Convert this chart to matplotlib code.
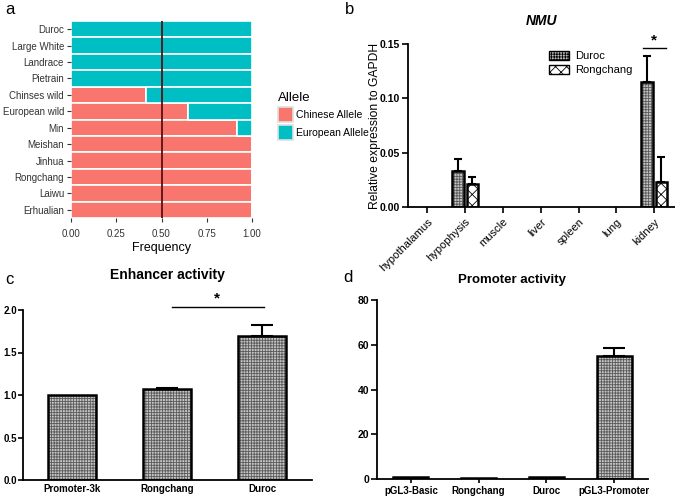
import matplotlib
matplotlib.use("Agg")
import matplotlib.pyplot as plt
from matplotlib import font_manager
from matplotlib.patches import Patch
import numpy as np

plt.rcParams['font.family'] = ['Liberation Sans', 'DejaVu Sans']
plt.rcParams['hatch.linewidth'] = 0.6

_names = {f.name for f in font_manager.fontManager.ttflist}
NARROW = ['Liberation Sans Narrow', 'Liberation Sans', 'DejaVu Sans'] if 'Liberation Sans Narrow' in _names \
    else ['Liberation Sans', 'DejaVu Sans']

W, H = 675, 497

# ---------------- data ----------------
# panel a
breeds = ["Duroc", "Large White", "Landrace", "Pietrain", "Chinses wild", "European wild",
          "Min", "Meishan", "Jinhua", "Rongchang", "Laiwu", "Erhualian"]
chinese_freq = [0.0, 0.0, 0.0, 0.0, 0.415, 0.645, 0.915, 1.0, 1.0, 1.0, 1.0, 1.0]
a_xticks = [0.00, 0.25, 0.50, 0.75, 1.00]
a_xticklabels = ["0.00", "0.25", "0.50", "0.75", "1.00"]

# panel b
tissues = ["hypothalamus", "hypophysis", "muscle", "liver", "spleen", "lung", "kidney"]
duroc_expr = [0.0, 0.033, 0.0, 0.0, 0.0, 0.0, 0.115]
duroc_err = [0.0, 0.011, 0.0, 0.0, 0.0, 0.0, 0.024]
rong_expr = [0.0, 0.021, 0.0, 0.0, 0.0, 0.0, 0.023]
rong_err = [0.0, 0.007, 0.0, 0.0, 0.0, 0.0, 0.023]
b_yticks = [0.00, 0.05, 0.10, 0.15]

# panel c
enh_groups = ["Promoter-3k", "Rongchang", "Duroc"]
enh_vals = [1.0, 1.07, 1.69]
enh_err = [0.0, 0.01, 0.13]
c_yticks = [0.0, 0.5, 1.0, 1.5, 2.0]

# panel d
prom_groups = ["pGL3-Basic", "Rongchang", "Duroc", "pGL3-Promoter"]
prom_vals = [1.0, 0.6, 0.7, 55.0]
prom_err = [0.0, 0.0, 0.0, 3.5]
d_yticks = [0, 20, 40, 60, 80]

GREY_FACE = '#c4c4c4'
GREY_HATCH = '#5a5a5a'


def add_ax(fig, x0, y0, x1, y1):
    return fig.add_axes([x0 / W, 1 - y1 / H, (x1 - x0) / W, (y1 - y0) / H])


def hatched_bar(ax, x, h, width, face, hatch, hcolor):
    ax.bar(x, h, width, color=face, edgecolor=hcolor, hatch=hatch, linewidth=0, zorder=2)
    ax.bar(x, h, width, fill=False, edgecolor='black', linewidth=1.8, zorder=3)


def prism_axes(ax):
    for s in ['top', 'right']:
        ax.spines[s].set_visible(False)
    for s in ['left', 'bottom']:
        ax.spines[s].set_linewidth(1.3)
    ax.tick_params(direction='out', width=1.2, length=4)


fig = plt.figure(figsize=(W / 100, H / 100), dpi=100)

# ---------------- panel a ----------------
axa = add_ax(fig, 71, 21, 252, 218)
n = len(breeds)
ypos = np.arange(n)[::-1]
ch = np.array(chinese_freq)
axa.barh(ypos, ch, height=1.0, color='#F8766D', edgecolor='white', linewidth=1.2, label='Chinese Allele')
axa.barh(ypos, 1 - ch, left=ch, height=1.0, color='#00BFC4', edgecolor='white', linewidth=1.2,
         label='European Allele')
axa.axvline(0.5, color='#5a1010', linewidth=1.3)
axa.set_xlim(0, 1)
axa.set_ylim(-0.5, n - 0.5)
axa.set_yticks(ypos)
axa.set_yticklabels(breeds, fontsize=7, color='#333333', family=NARROW)
axa.set_xticks(a_xticks)
axa.set_xticklabels(a_xticklabels, fontsize=7, color='#333333', family=NARROW)
for s in axa.spines.values():
    s.set_visible(False)
axa.tick_params(axis='both', length=3, color='#333333', width=0.8, pad=2)
axa.tick_params(axis='x', pad=5)
axa.set_xlabel("Frequency", fontsize=9, labelpad=2, family=NARROW)
leg = axa.legend(title="Allele", loc='upper left', bbox_to_anchor=(1.12, 0.66), frameon=False,
                 prop={'size': 7.5, 'family': NARROW}, title_fontsize=9.5, handlelength=1.45,
                 handleheight=1.9, borderaxespad=0, alignment='left', handletextpad=0.3,
                 labelspacing=0.25)
leg.get_title().set_family(NARROW)
for p in leg.get_patches():
    p.set_edgecolor('#e0e0e0')
fig.text(5 / W, 1 - 10 / H, "a", fontsize=12, va='center', ha='left')

# ---------------- panel b ----------------
axb = add_ax(fig, 408, 44, 675, 207)
prism_axes(axb)
xb = np.arange(len(tissues))
bw = 0.3
for i in range(len(tissues)):
    if duroc_expr[i] > 0:
        hatched_bar(axb, xb[i] - 0.19, duroc_expr[i], bw, GREY_FACE, '++++++', GREY_HATCH)
        axb.errorbar(xb[i] - 0.19, duroc_expr[i], yerr=[[0], [duroc_err[i]]], fmt='none',
                     ecolor='black', elinewidth=1.5, capsize=3, capthick=1.5, zorder=4)
    if rong_expr[i] > 0:
        hatched_bar(axb, xb[i] + 0.19, rong_expr[i], bw, 'white', 'xxx', 'black')
        axb.errorbar(xb[i] + 0.19, rong_expr[i], yerr=[[0], [rong_err[i]]], fmt='none',
                     ecolor='black', elinewidth=1.5, capsize=3, capthick=1.5, zorder=4)
axb.set_xlim(-0.51, 6.55)
axb.set_ylim(0, 0.15)
axb.set_yticks(b_yticks)
axb.set_yticklabels(["0.00", "0.05", "0.10", "0.15"], fontsize=7.5, fontweight='bold')
axb.tick_params(axis='y', pad=1.5)
axb.set_xticks(xb)
axb.set_xticklabels(tissues, rotation=45, ha='right', rotation_mode='anchor', fontsize=8)
axb.tick_params(axis='x', pad=3)
axb.set_ylabel("Relative expression to GAPDH", fontsize=8.7)
axb.yaxis.set_label_coords((381 - 408) / 267, 0.5)
axb.set_title("NMU", fontsize=10, fontweight='bold', fontstyle='italic', pad=14)
hd = [Patch(facecolor=GREY_FACE, edgecolor='black', hatch='++++++', linewidth=1),
      Patch(facecolor='white', edgecolor='black', hatch='xxx', linewidth=1)]
axb.legend(hd, ["Duroc", "Rongchang"], loc='upper left', bbox_to_anchor=(0.49, 1.02),
           frameon=False, fontsize=8, handlelength=1.8, handleheight=0.9, labelspacing=0.3,
           handletextpad=0.6)
k = 6
axb.plot([k - 0.3, k + 0.3], [0.146, 0.146], color='black', linewidth=1, clip_on=False)
axb.text(k, 0.147, "*", ha='center', va='bottom', fontsize=11, fontweight='bold')
fig.text(345 / W, 1 - 10 / H, "b", fontsize=12, va='center', ha='left')

# ---------------- panel c ----------------
axc = add_ax(fig, 23, 310, 312, 480)
prism_axes(axc)
xc = np.arange(len(enh_groups))
for i in range(len(enh_groups)):
    hatched_bar(axc, xc[i], enh_vals[i], 0.5, GREY_FACE, '++++++', GREY_HATCH)
    if enh_err[i] > 0:
        axc.errorbar(xc[i], enh_vals[i], yerr=[[0], [enh_err[i]]], fmt='none', ecolor='black',
                     elinewidth=1.5, capsize=8, capthick=1.5, zorder=4)
axc.set_xlim(-0.516, 2.526)
axc.set_ylim(0, 2.0)
axc.set_yticks(c_yticks)
axc.set_yticklabels(["0.0", "0.5", "1.0", "1.5", "2.0"], fontsize=7, fontweight='bold')
axc.tick_params(axis='y', length=3.5, pad=1)
axc.set_xticks(xc)
axc.set_xticklabels(enh_groups, fontsize=7, fontweight='bold')
axc.tick_params(axis='x', length=0, pad=3)
axc.plot([1.05, 2.02], [2.03, 2.03], color='black', linewidth=1, clip_on=False)
axc.text(1.53, 2.05, "*", ha='center', va='bottom', fontsize=11, fontweight='bold')
axc.set_title("Enhancer activity", fontsize=10, fontweight='bold', pad=22)
fig.text(5 / W, 1 - 279 / H, "c", fontsize=12, va='center', ha='left')

# ---------------- panel d ----------------
axd = add_ax(fig, 377, 300, 648, 479)
prism_axes(axd)
xd = np.arange(len(prom_groups))
for i in range(len(prom_groups)):
    hatched_bar(axd, xd[i], prom_vals[i], 0.52, GREY_FACE, '++++++', GREY_HATCH)
    if prom_err[i] > 0:
        axd.errorbar(xd[i], prom_vals[i], yerr=[[0], [prom_err[i]]], fmt='none', ecolor='black',
                     elinewidth=1.5, capsize=8, capthick=1.5, zorder=4)
axd.set_xlim(-0.5, 3.5)
axd.set_ylim(0, 80)
axd.set_yticks(d_yticks)
axd.set_yticklabels([str(v) for v in d_yticks], fontsize=7.5, fontweight='bold')
axd.tick_params(axis='y', pad=1.5)
axd.set_xticks(xd)
axd.set_xticklabels(prom_groups, fontsize=7, fontweight='bold')
axd.tick_params(axis='x', length=3, pad=2)
axd.set_title("Promoter activity", fontsize=9.5, fontweight='bold', pad=12)
fig.text(343 / W, 1 - 277 / H, "d", fontsize=12, va='center', ha='left')

fig.savefig("out.png", dpi=100)
